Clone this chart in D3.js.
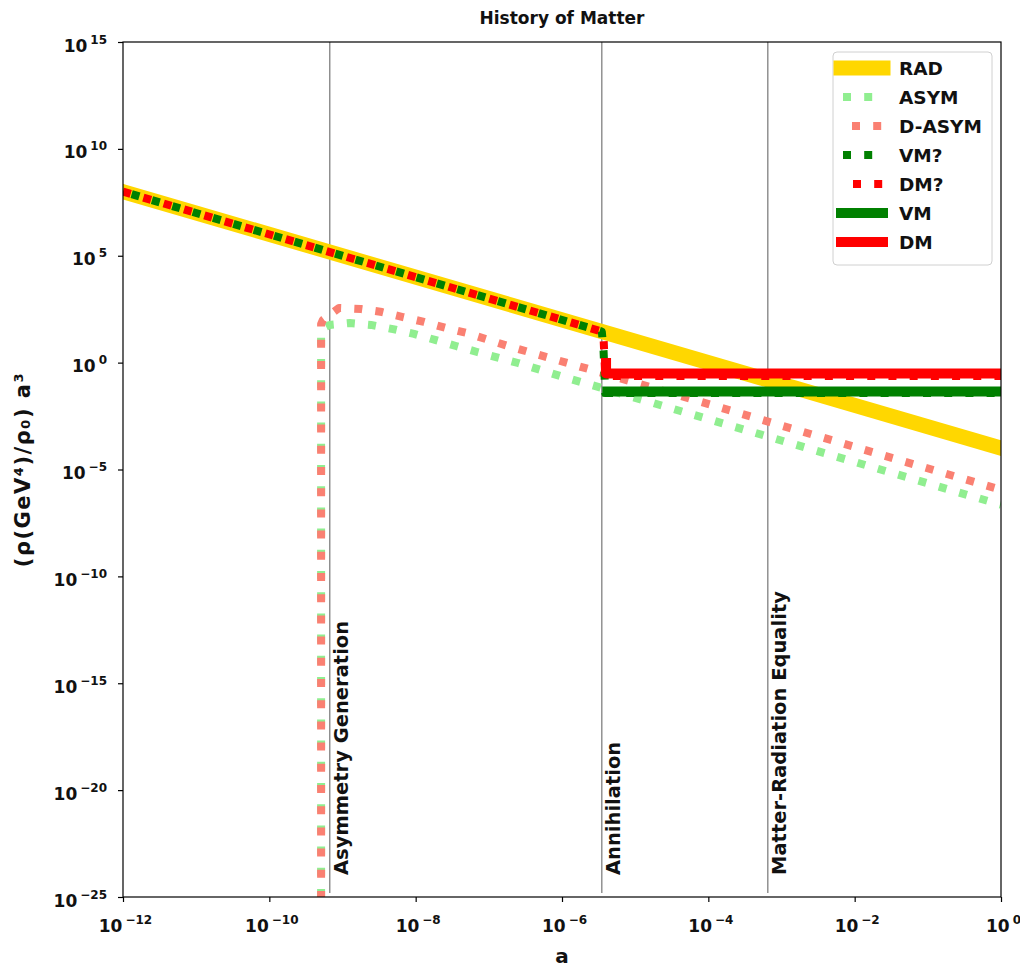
<!DOCTYPE html>
<html>
<head>
<meta charset="utf-8">
<script src="https://cdn.jsdelivr.net/npm/d3@7"></script>
<style>
html,body{margin:0;padding:0;background:#fff;}
text{font-family:"DejaVu Sans",sans-serif;font-weight:bold;fill:#111;}
</style>
</head>
<body>
<svg id="chart" width="1020" height="967"></svg>
<script>
// ---------------- data ----------------
const xTickValues = [1e-12, 1e-10, 1e-8, 1e-6, 1e-4, 1e-2, 1];
const xTickExponents = ["\u221212", "\u221210", "\u22128", "\u22126", "\u22124", "\u22122", "0"];
const yTickValues = [1e-25, 1e-20, 1e-15, 1e-10, 1e-5, 1, 1e5, 1e10, 1e15];
const yTickExponents = ["\u221225", "\u221220", "\u221215", "\u221210", "\u22125", "0", "5", "10", "15"];

const radA = [1e-12, 1];
const radY = [1e8, 1e-4];

const asymA = [5.1e-10, 5.1e-10, 5.5e-10, 6.7e-10, 1.26e-9, 2.45e-9, 4.9e-9, 9.5e-9, 1.84e-8, 3.55e-8, 6.9e-8, 2.5e-7, 9.4e-7, 3.5e-6, 1];
const asymY = [1e-25, 20, 42, 58, 71, 58, 37, 22, 11.5, 6.0, 3.14, 0.96, 0.237, 0.065, 2.24e-7];

const dasymA = [5.1e-10, 5.1e-10, 5.4e-10, 8.95e-10, 1.79e-9, 3.47e-9, 6.7e-9, 1.3e-8, 2.6e-8, 5.0e-8, 1.83e-7, 6.85e-7, 2.57e-6, 1];
const dasymY = [1e-25, 63, 100, 360, 323, 233, 136, 80, 41.7, 24.3, 6.0, 1.64, 0.452, 1.12e-6];

const vmqA = [1e-12, 3.5e-6, 3.7e-6, 3.9e-6, 1];
const vmqY = [1e8, 28.6, 3.5, 0.038, 0.038];

const dmqA = [1e-12, 3.5e-6, 3.7e-6, 3.9e-6, 1];
const dmqY = [1e8, 28.6, 14, 0.237, 0.237];

const vmA = [3.55e-6, 1];
const vmY = [0.045, 0.045];

const dmA = [4.0e-6, 4.0e-6, 1];
const dmY = [1.64, 0.31, 0.31];

const eventA = [6.7e-10, 3.5e-6, 6.5e-4];
const eventLabels = ["Asymmetry Generation", "Annihilation", "Matter-Radiation Equality"];

const seriesNames = ["RAD", "ASYM", "D-ASYM", "VM?", "DM?", "VM", "DM"];

// ---------------- styles ----------------
const styles = {
  "RAD":    {color: "#FFD700", width: 15, dash: null, offset: 0, legOffset: 0},
  "ASYM":   {color: "#90EE90", width: 8, dash: "8,13.2", offset: 0, legOffset: -2},
  "D-ASYM": {color: "#FA8072", width: 8, dash: "8,13.2", offset: 2, legOffset: -11},
  "VM?":    {color: "#008000", width: 8, dash: "8,13.2", offset: 12.2, legOffset: -2},
  "DM?":    {color: "#FF0000", width: 8, dash: "8,13.2", offset: 0, legOffset: -12},
  "VM":     {color: "#008000", width: 10, dash: null, offset: 0, legOffset: 0},
  "DM":     {color: "#FF0000", width: 10, dash: null, offset: 0, legOffset: 0}
};
const seriesData = {
  "RAD": [radA, radY], "ASYM": [asymA, asymY], "D-ASYM": [dasymA, dasymY],
  "VM?": [vmqA, vmqY], "DM?": [dmqA, dmqY], "VM": [vmA, vmY], "DM": [dmA, dmY]
};

// ---------------- layout ----------------
const mLeft = 123, mRight = 1001, mTop = 42, mBottom = 897;
const svg = d3.select("#chart");
const x = d3.scaleLog().domain([1e-12, 1]).range([mLeft, mRight]);
const y = d3.scaleLog().domain([1e-25, 1e15]).range([mBottom, mTop]);

svg.append("defs").append("clipPath").attr("id", "clip")
  .append("rect").attr("x", mLeft).attr("y", mTop).attr("width", mRight - mLeft).attr("height", mBottom - mTop);

const plot = svg.append("g").attr("clip-path", "url(#clip)");

// event lines
eventA.forEach((a, i) => {
  plot.append("line")
    .attr("x1", x(a)).attr("x2", x(a))
    .attr("y1", mTop).attr("y2", mBottom - 4)
    .attr("stroke", "#808080").attr("stroke-width", 1.3);
});

const line = d3.line().x(d => x(d[0])).y(d => y(d[1]));

seriesNames.forEach(name => {
  const [as, ys] = seriesData[name];
  const st = styles[name];
  const pts = as.map((a, i) => [a, ys[i]]);
  const p = plot.append("path")
    .attr("d", line(pts))
    .attr("fill", "none")
    .attr("stroke", st.color)
    .attr("stroke-width", st.width)
    .attr("stroke-linejoin", "round");
  if (st.dash) {
    p.attr("stroke-dasharray", st.dash).attr("stroke-dashoffset", st.offset).attr("stroke-linecap", "butt");
  } else {
    p.attr("stroke-linecap", name === "RAD" ? "square" : "butt");
  }
});

// event labels
eventA.forEach((a, i) => {
  svg.append("text")
    .attr("transform", `translate(${x(a) + 18},${mBottom - 22}) rotate(-90)`)
    .attr("font-size", 19.5)
    .attr("text-anchor", "start")
    .text(eventLabels[i]);
});

// axes
const xAxis = d3.axisBottom(x).tickValues(xTickValues).tickFormat(() => "").tickSize(5).tickSizeOuter(0);
const yAxis = d3.axisLeft(y).tickValues(yTickValues).tickFormat(() => "").tickSize(5).tickSizeOuter(0);

const gx = svg.append("g").attr("transform", `translate(0,${mBottom})`).call(xAxis);
const gy = svg.append("g").attr("transform", `translate(${mLeft},0)`).call(yAxis);
[gx, gy].forEach(g => {
  g.select(".domain").remove();
  g.selectAll(".tick line").attr("stroke", "#000").attr("stroke-width", 1.2);
});

gx.selectAll(".tick").each(function(d, i) {
  const t = d3.select(this).append("text")
    .attr("x", 2).attr("y", 35).attr("text-anchor", "middle").attr("font-size", 17).attr("fill", "#111");
  t.append("tspan").text("10");
  t.append("tspan").attr("dx", 3).attr("dy", -8).attr("font-size", 12).text(xTickExponents[i]);
});
gy.selectAll(".tick").each(function(d, i) {
  const t = d3.select(this).append("text")
    .attr("x", -16).attr("y", 9).attr("text-anchor", "end").attr("font-size", 17).attr("fill", "#111");
  t.append("tspan").text("10");
  t.append("tspan").attr("dx", 3).attr("dy", -8).attr("font-size", 12).text(yTickExponents[i]);
});

// frame
svg.append("rect").attr("x", mLeft).attr("y", mTop).attr("width", mRight - mLeft).attr("height", mBottom - mTop)
  .attr("fill", "none").attr("stroke", "#000").attr("stroke-width", 1.2);

// title & labels
svg.append("text").attr("x", (mLeft + mRight) / 2).attr("y", 24).attr("text-anchor", "middle")
  .attr("font-size", 17).text("History of Matter");
svg.append("text").attr("x", (mLeft + mRight) / 2).attr("y", 963).attr("text-anchor", "middle")
  .attr("font-size", 20).text("a");
svg.append("text").attr("transform", `translate(30,${(mTop + mBottom) / 2}) rotate(-90)`)
  .attr("text-anchor", "middle").attr("font-size", 21).attr("letter-spacing", 1.5)
  .text("(\u03c1(GeV\u2074)/\u03c1\u2080) a\u00b3");

// legend
const lg = svg.append("g").attr("transform", "translate(833,52)");
lg.append("rect").attr("width", 159).attr("height", 213).attr("rx", 4)
  .attr("fill", "#fff").attr("stroke", "#d0d0d0").attr("stroke-width", 1);
seriesNames.forEach((name, i) => {
  const st = styles[name];
  const cy = 16 + i * 29;
  const l = lg.append("line").attr("x1", 8).attr("x2", 50).attr("y1", cy).attr("y2", cy)
    .attr("stroke", st.color).attr("stroke-width", st.width);
  if (st.dash) l.attr("stroke-dasharray", st.dash).attr("stroke-dashoffset", st.legOffset).attr("stroke-linecap", "butt");
  else l.attr("stroke-linecap", "square");
  lg.append("text").attr("x", 66).attr("y", cy + 7).attr("font-size", 18.5).text(name);
});
</script>
</body>
</html>
